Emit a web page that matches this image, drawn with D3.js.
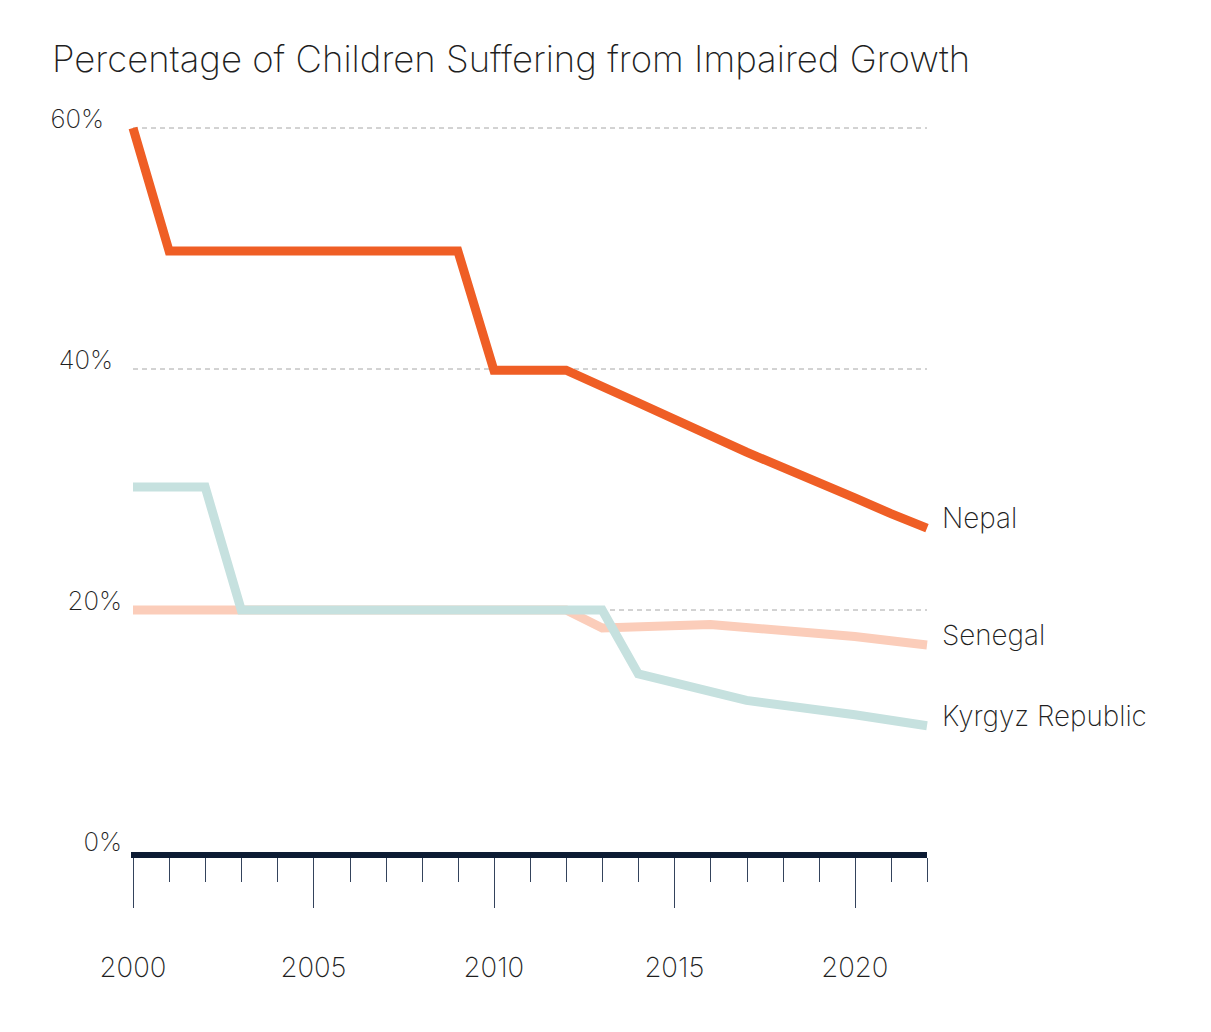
<!DOCTYPE html>
<html>
<head>
<meta charset="utf-8">
<script src="https://cdn.jsdelivr.net/npm/d3@7"></script>
<style>
  body { margin: 0; background: #fff; }
  svg text { font-family: Inter, "Noto Sans", sans-serif; font-weight: 250; fill: #1f1f1f; }
</style>
</head>
<body>
<div id="vis"></div>
<script>
// values
var years = [2000, 2022];
var yTicks = [0, 20, 40, 60];
var yTickLabels = ["0%", "20%", "40%", "60%"];
var yearLabels = [2000, 2005, 2010, 2015, 2020];

var nepalYears = [2000, 2001, 2009, 2010, 2012, 2014, 2017, 2020, 2021, 2022];
var nepalValues = [60, 49.8, 49.8, 39.9, 39.9, 37.2, 33.1, 29.3, 28.0, 26.8];

var senegalYears = [2000, 2012, 2013, 2016, 2020, 2022];
var senegalValues = [20, 20, 18.5, 18.8, 17.8, 17.1];

var kyrgyzYears = [2000, 2002, 2003, 2013, 2014, 2017, 2020, 2022];
var kyrgyzValues = [30.2, 30.2, 20, 20, 14.7, 12.5, 11.3, 10.4];

var series = [
  { name: "Senegal", years: senegalYears, values: senegalValues, color: "#fbcdba" },
  { name: "Kyrgyz Republic", years: kyrgyzYears, values: kyrgyzValues, color: "#c6e1df" },
  { name: "Nepal", years: nepalYears, values: nepalValues, color: "#ef5e25" }
];

var width = 1211,
    height = 1032;

var svg = d3.select("#vis").append("svg")
    .attr("width", width)
    .attr("height", height);

var x = d3.scaleLinear().domain(years).range([133, 927]);
var y = d3.scaleLinear().domain([0, 60]).range([851, 128]);

// title
svg.append("text")
    .attr("x", 52)
    .attr("y", 72)
    .style("font-size", "36.5px")
    .text("Percentage of Children Suffering from Impaired Growth");

// gridlines (not at zero, the axis sits there)
svg.selectAll(".grid")
    .data(yTicks.filter(function(d) { return d > 0; }))
    .enter().append("line")
    .attr("class", "grid")
    .attr("x1", x(2000))
    .attr("x2", x(2022))
    .attr("y1", function(d) { return y(d); })
    .attr("y2", function(d) { return y(d); })
    .attr("stroke", "#a6a6a6")
    .attr("stroke-width", 1)
    .attr("stroke-dasharray", "5,4");

// y labels sit a little staggered in the original
var labelRight = [122, 122, 113, 104];
svg.selectAll(".ylab")
    .data(yTicks)
    .enter().append("text")
    .attr("class", "ylab")
    .attr("x", function(d, i) { return labelRight[i]; })
    .attr("y", function(d) { return y(d); })
    .attr("text-anchor", "end")
    .style("font-size", "25.8px")
    .text(function(d, i) { return yTickLabels[i]; });

// lines
var line = d3.line()
    .x(function(d) { return x(d[0]); })
    .y(function(d) { return y(d[1]); });

svg.selectAll(".series")
    .data(series)
    .enter().append("path")
    .attr("class", "series")
    .attr("d", function(s) { return line(d3.zip(s.years, s.values)); })
    .attr("fill", "none")
    .attr("stroke", function(s) { return s.color; })
    .attr("stroke-width", 9);

svg.selectAll(".slab")
    .data(series)
    .enter().append("text")
    .attr("class", "slab")
    .attr("x", x(2022) + 15)
    .attr("y", function(s) { return y(s.values[s.values.length - 1]); })
    .style("font-size", "27.8px")
    .text(function(s) { return s.name; });

// x axis: thick base line and yearly ticks
var axisY = y(0) + 4;

svg.append("line")
    .attr("x1", x(2000) - 2)
    .attr("x2", x(2022))
    .attr("y1", axisY)
    .attr("y2", axisY)
    .attr("stroke", "#0c1b33")
    .attr("stroke-width", 6);

svg.selectAll(".tick")
    .data(d3.range(2000, 2023))
    .enter().append("line")
    .attr("class", "tick")
    .attr("x1", function(d) { return Math.round(x(d)) + 0.5; })
    .attr("x2", function(d) { return Math.round(x(d)) + 0.5; })
    .attr("y1", axisY + 3)
    .attr("y2", function(d) { return d % 5 == 0 ? 908 : 882; })
    .attr("stroke", "#34435c")
    .attr("stroke-width", 1);

svg.selectAll(".xlab")
    .data(yearLabels)
    .enter().append("text")
    .attr("class", "xlab")
    .attr("x", function(d) { return x(d); })
    .attr("y", 977)
    .attr("text-anchor", "middle")
    .style("font-size", "27.5px")
    .text(function(d) { return d; });
</script>
</body>
</html>
